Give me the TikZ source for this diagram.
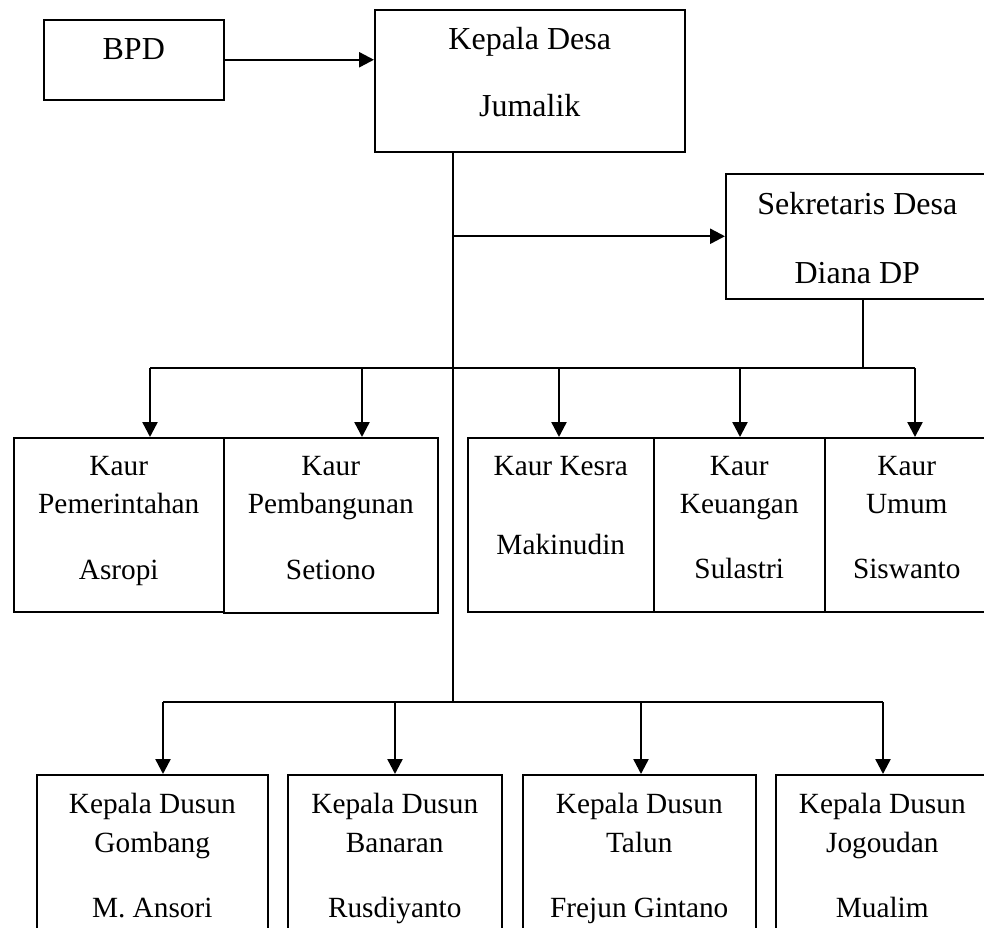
\documentclass[tikz,border=0pt]{standalone}
\usepackage{fontspec}
\setmainfont{Liberation Serif}
\usetikzlibrary{positioning,arrows.meta}

\tikzset{
	kotak/.style={draw, line width=1.5pt, rectangle, inner sep=0pt, anchor=north west},
	teks/.style={align=center, inner sep=0pt, font=\fontsize{29.3}{38.5}\selectfont},
	teksbesar/.style={teks, font=\fontsize{32}{38}\selectfont},
	garis/.style={line width=1.8pt},
	panah/.style={line width=2.4pt, -{Triangle[width=15pt,length=15pt]}}
}

\begin{document}
\begin{tikzpicture}[x=1pt,y=-1pt]

	\useasboundingbox (0,0) rectangle (984,927);

	% BPD dan Kepala Desa
	\node[kotak, minimum width=180pt, minimum height=80pt] (bpd) at (43,19) {};
	\node[teksbesar, below=19pt of bpd.north] (bpdT) {BPD};
	\node[kotak, minimum width=310pt, minimum height=142pt] (kades) at (374,9) {};
	\node[teksbesar, below=18pt of kades.north] (kadesT) {Kepala Desa\\[29pt]Jumalik};

	% Sekretaris
	\node[kotak, minimum width=263pt, minimum height=125pt] (sekdes) at (725,173) {};
	\node[teksbesar, below=19pt of sekdes.north] (sekdesT) {Sekretaris Desa\\[31pt]Diana DP};

	% Kaur
	\node[kotak, minimum width=210pt, minimum height=174pt] (pem) at (13,437) {};
	\node[kotak, minimum width=214pt, minimum height=175pt] (pemb) at (223,437) {};
	\node[kotak, minimum width=186pt, minimum height=174pt] (kesra) at (467,437) {};
	\node[kotak, minimum width=171pt, minimum height=174pt] (keu) at (653,437) {};
	\node[kotak, minimum width=164pt, minimum height=174pt] (umum) at (824,437) {};

	\node[teks, below=19pt of pem.north] (pemT) {Kaur\\Pemerintahan\\[27pt]Asropi};
	\node[teks, below=19pt of pemb.north] (pembT) {Kaur\\Pembangunan\\[27pt]Setiono};
	\node[teks, below=19pt of kesra.north] (kesraT) {Kaur Kesra\\[40.5pt]Makinudin};
	\node[teks, below=19pt of keu.north] (keuT) {Kaur\\Keuangan\\[26pt]Sulastri};
	\node[teks, below=19pt of umum.north] (umumT) {Kaur\\Umum\\[26pt]Siswanto};

	% Kepala Dusun
	\node[kotak, minimum width=231pt, minimum height=170pt] (gombang) at (36,774) {};
	\node[kotak, minimum width=214pt, minimum height=170pt] (banaran) at (287,774) {};
	\node[kotak, minimum width=233pt, minimum height=170pt] (talun) at (522,774) {};
	\node[kotak, minimum width=213pt, minimum height=170pt] (jogoudan) at (775,774) {};

	\node[teks, below=19pt of gombang.north] (gombangT) {Kepala Dusun\\Gombang\\[27pt]M. Ansori};
	\node[teks, below=19pt of banaran.north] (banaranT) {Kepala Dusun\\Banaran\\[27pt]Rusdiyanto};
	\node[teks, below=19pt of talun.north] (talunT) {Kepala Dusun\\Talun\\[27pt]Frejun Gintano};
	\node[teks, below=19pt of jogoudan.north] (jogoudanT) {Kepala Dusun\\Jogoudan\\[27pt]Mualim};

	% Garis
	\coordinate (atas) at (453,151);
	\coordinate (bawah) at (453,702);
	\coordinate (sekbawah) at (863,298);
	\coordinate (kaurkiri) at (150,368);
	\coordinate (kaurkanan) at (915,368);
	\coordinate (dusunkiri) at (163,702);
	\coordinate (dusunkanan) at (883,702);

	\draw[panah] (bpd.east) -- (bpd.east -| kades.west);
	\draw[garis] (atas) -- (bawah);
	\draw[panah] (atas |- sekdes.west) -- (sekdes.west);
	\draw[garis] (sekbawah) -- (sekbawah |- kaurkiri);
	\draw[garis] (kaurkiri) -- (kaurkanan);
	\draw[garis] (dusunkiri) -- (dusunkanan);

	\foreach \x/\k in {150/pem, 362/pemb, 559/kesra, 740/keu, 915/umum}
		\draw[panah] (\x,368) -- (\x,0 |- \k.north);
	\foreach \x/\k in {163/gombang, 395/banaran, 641/talun, 883/jogoudan}
		\draw[panah] (\x,702) -- (\x,0 |- \k.north);

\end{tikzpicture}
\end{document}
